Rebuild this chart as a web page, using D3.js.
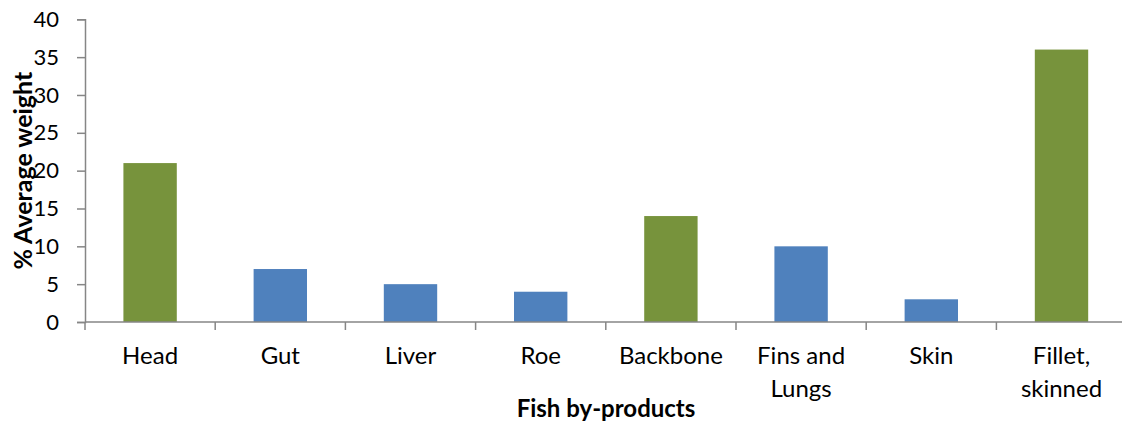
<!DOCTYPE html>
<html>
<head>
<meta charset="utf-8">
<script src="https://cdn.jsdelivr.net/npm/d3@7/dist/d3.min.js"></script>
<style>
  html, body { margin: 0; padding: 0; background: #fff; overflow: hidden; }
  svg { display: block; }
  text { font-family: Lato, "Open Sans", "Liberation Sans", sans-serif; fill: #000; }
</style>
</head>
<body>
<svg id="chart" width="1122" height="422"></svg>
<script>
// Fish by-products as share of average weight
const categories = ["Head", "Gut", "Liver", "Roe", "Backbone", "Fins and Lungs", "Skin", "Fillet, skinned"];
const labelLines = [["Head"], ["Gut"], ["Liver"], ["Roe"], ["Backbone"], ["Fins and", "Lungs"], ["Skin"], ["Fillet,", "skinned"]];
const values = [21, 7, 5, 4, 14, 10, 3, 36];
const groups = ["main", "offal", "offal", "offal", "main", "offal", "offal", "main"];
const yTicks = [0, 5, 10, 15, 20, 25, 30, 35, 40];

const colors = { main: "#77933C", offal: "#4F81BD" };
const axisColor = "#868686";

const svg = d3.select("#chart");
const plotLeft = 85, plotTop = 19.3, plotBottom = 322;
const band = 130.2;

const x = d3.scaleBand()
  .domain(categories)
  .range([plotLeft, plotLeft + band * categories.length])
  .paddingInner(0.59)
  .paddingOuter(0.295);

const xBound = d3.scaleLinear().domain([0, categories.length]).range([plotLeft, plotLeft + band * categories.length]);
const y = d3.scaleLinear().domain([0, 40]).range([plotBottom, plotTop]);

// bars
svg.append("g")
  .selectAll("rect")
  .data(categories)
  .join("rect")
  .attr("x", d => x(d))
  .attr("width", x.bandwidth())
  .attr("y", (d, i) => y(values[i]))
  .attr("height", (d, i) => y(0) - y(values[i]))
  .attr("fill", (d, i) => colors[groups[i]]);

// y axis
const yAxis = svg.append("g")
  .attr("transform", `translate(${plotLeft},0)`)
  .call(d3.axisLeft(y).tickValues(yTicks).tickSize(8).tickPadding(18));
yAxis.select(".domain").attr("stroke", axisColor).attr("stroke-width", 1.5);
yAxis.selectAll(".tick line").attr("stroke", axisColor).attr("stroke-width", 1.5);
yAxis.selectAll(".tick text")
  .style("font-size", "22px")
  .attr("fill", "#000");

// x axis line with tick marks at category boundaries
const xg = svg.append("g");
xg.append("line")
  .attr("x1", plotLeft).attr("x2", plotLeft + band * categories.length)
  .attr("y1", plotBottom).attr("y2", plotBottom)
  .attr("stroke", axisColor).attr("stroke-width", 1.5);
xg.selectAll("line.tk")
  .data(d3.range(categories.length + 1))
  .join("line")
  .attr("class", "tk")
  .attr("x1", d => xBound(d)).attr("x2", d => xBound(d))
  .attr("y1", plotBottom).attr("y2", plotBottom + 8)
  .attr("stroke", axisColor).attr("stroke-width", 1.5);

// category labels
const lbl = svg.append("g")
  .selectAll("text")
  .data(categories)
  .join("text")
  .attr("x", d => x(d) + x.bandwidth() / 2)
  .attr("y", 364)
  .attr("text-anchor", "middle")
  .style("font-size", "24px");
lbl.selectAll("tspan")
  .data((d, i) => labelLines[i])
  .join("tspan")
  .attr("x", function () { return this.parentNode.getAttribute("x"); })
  .attr("dy", (d, j) => j === 0 ? 0 : 33)
  .text(d => d);

// axis titles
svg.append("text")
  .attr("x", 606)
  .attr("y", 417)
  .attr("text-anchor", "middle")
  .style("font-size", "24px")
  .style("font-weight", "bold")
  .text("Fish by-products");

svg.append("text")
  .attr("transform", `translate(32,${(plotTop + plotBottom) / 2}) rotate(-90)`)
  .attr("text-anchor", "middle")
  .style("font-size", "25px")
  .style("font-weight", "bold")
  .text("% Average weight");
</script>
</body>
</html>
